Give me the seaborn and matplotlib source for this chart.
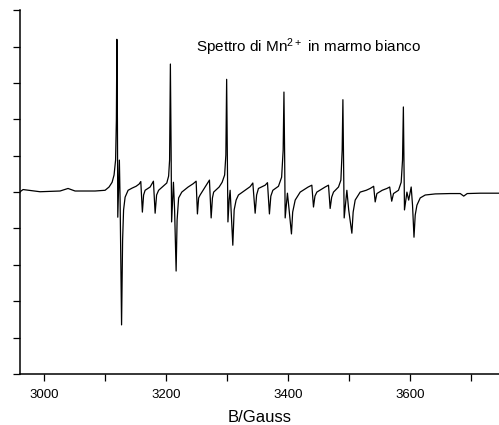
import matplotlib
matplotlib.use("Agg")
import matplotlib.pyplot as plt
from matplotlib.ticker import MultipleLocator, NullFormatter
import seaborn as sns

# EPR spectrum of Mn2+ in white marble
field_gauss = [
    2961.2, 2966.1, 2993.9, 3026.7, 3039.8, 3051.3, 3084.1, 3092.3, 3100.5, 3107.0,
    3112.0, 3115.2, 3117.7, 3119.0, 3119.8, 3120.7, 3121.3, 3122.6, 3123.9, 3125.1,
    3127.5, 3129.2, 3130.8, 3133.3, 3138.2, 3144.8, 3151.3, 3156.2, 3159.0, 3161.6,
    3163.6, 3166.1, 3174.3, 3179.7, 3182.5, 3184.9, 3188.2, 3195.6, 3201.6, 3204.6,
    3206.2, 3207.5, 3208.7, 3209.5, 3212.5, 3214.4, 3216.9, 3218.5, 3221.0, 3226.2,
    3236.6, 3244.8, 3249.7, 3251.8, 3253.8, 3256.2, 3264.4, 3271.5, 3274.3, 3276.4,
    3278.4, 3287.4, 3292.3, 3296.4, 3298.4, 3299.7, 3300.8, 3301.8, 3303.8, 3305.4,
    3307.0, 3309.8, 3312.0, 3315.2, 3319.0, 3330.0, 3338.2, 3342.6, 3346.4, 3348.8,
    3351.8, 3362.8, 3366.6, 3369.8, 3372.1, 3375.4, 3384.6, 3389.8, 3392.3, 3393.6,
    3394.8, 3395.6, 3399.3, 3401.3, 3405.9, 3407.9, 3412.0, 3420.2, 3433.3, 3439.3,
    3442.0, 3444.4, 3447.5, 3461.1, 3466.6, 3469.3, 3471.8, 3474.8, 3483.0, 3486.9,
    3489.0, 3490.2, 3491.3, 3492.3, 3496.7, 3499.7, 3504.9, 3507.0, 3510.3, 3518.5,
    3528.4, 3534.9, 3540.6, 3543.1, 3545.9, 3554.6, 3562.3, 3566.9, 3570.2, 3573.1,
    3581.3, 3585.7, 3587.9, 3589.3, 3590.3, 3591.1, 3595.1, 3598.0, 3602.1, 3604.3,
    3606.7, 3608.7, 3611.5, 3616.9, 3625.1, 3641.5, 3666.1, 3682.5, 3688.2, 3693.9,
    3715.2, 3746.4,
]
signal = [
    0.01, 0.07, 0.01, 0.03, 0.10, 0.03, 0.03, 0.04, 0.05, 0.14,
    0.27, 0.47, 0.88, 1.98, 4.20, 1.98, -0.69, 0.05, 0.88, -0.22,
    -3.65, -1.32, -0.49, -0.14, 0.05, 0.11, 0.16, 0.22, 0.29, -0.55,
    -0.08, 0.05, 0.14, 0.30, -0.58, -0.08, 0.05, 0.16, 0.25, 0.44,
    0.88, 3.52, 1.15, -0.82, 0.27, -0.49, -2.17, -0.77, -0.16, 0.00,
    0.14, 0.23, 0.30, -0.60, -0.16, -0.08, 0.14, 0.33, -0.71, -0.16,
    0.00, 0.14, 0.27, 0.47, 1.02, 3.10, 0.88, -0.82, -0.22, 0.05,
    -0.49, -1.46, -0.49, -0.22, -0.08, 0.05, 0.15, 0.25, -0.58, -0.08,
    0.10, 0.19, 0.26, -0.60, -0.11, 0.05, 0.16, 0.41, 1.15, 2.75,
    0.88, -0.71, -0.03, -0.36, -1.15, -0.55, -0.22, 0.00, 0.14, 0.19,
    -0.41, -0.11, 0.00, 0.14, 0.19, -0.45, -0.14, 0.00, 0.14, 0.33,
    1.15, 2.54, 0.88, -0.71, 0.05, -0.49, -1.13, -0.55, -0.22, 0.00,
    0.05, 0.10, 0.16, -0.27, -0.04, 0.05, 0.10, 0.14, -0.25, -0.04,
    0.05, 0.27, 0.88, 2.34, 0.88, -0.49, 0.00, -0.22, 0.14, -0.36,
    -1.24, -0.63, -0.36, -0.16, -0.08, -0.05, -0.04, -0.04, -0.11, -0.04,
    -0.03, -0.03,
]

x_major_ticks = [3000, 3200, 3400, 3600]
title_text = "Spettro di Mn$^{2+}$ in marmo bianco"
x_label = "B/Gauss"

sns.set_style("ticks")
plt.rcParams["font.family"] = ["Liberation Sans", "DejaVu Sans"]
plt.rcParams["mathtext.fontset"] = "custom"
plt.rcParams["mathtext.rm"] = "Liberation Sans"
plt.rcParams["mathtext.it"] = "Liberation Sans"
plt.rcParams["text.color"] = "black"
plt.rcParams["axes.labelcolor"] = "black"
plt.rcParams["xtick.color"] = "black"
plt.rcParams["ytick.color"] = "black"

fig = plt.figure(figsize=(4.99, 4.25), dpi=100)
ax = fig.add_axes([0.040, 0.12, 0.96, 0.856])

sns.lineplot(x=field_gauss, y=signal, sort=False, estimator=None,
             color="black", linewidth=0.9, ax=ax)

ax.set_xlim(2961, 3746)
ax.set_ylim(-5, 5)

ax.set_xticks(x_major_ticks)
ax.xaxis.set_minor_locator(MultipleLocator(100))
ax.yaxis.set_major_locator(MultipleLocator(1))
ax.yaxis.set_major_formatter(NullFormatter())

ax.tick_params(axis="both", which="both", direction="out", length=5,
               width=0.9, colors="black", labelsize=9.5, pad=6)

sns.despine(ax=ax, top=True, right=True)
for side in ["left", "bottom"]:
    ax.spines[side].set_linewidth(1.1)
    ax.spines[side].set_color("black")

ax.set_xlabel(x_label, fontsize=12, labelpad=6)
ax.set_ylabel("")

ax.text(0.368, 0.898, title_text, transform=ax.transAxes,
        fontsize=11, ha="left", va="center")

fig.savefig("out.png", dpi=100)
